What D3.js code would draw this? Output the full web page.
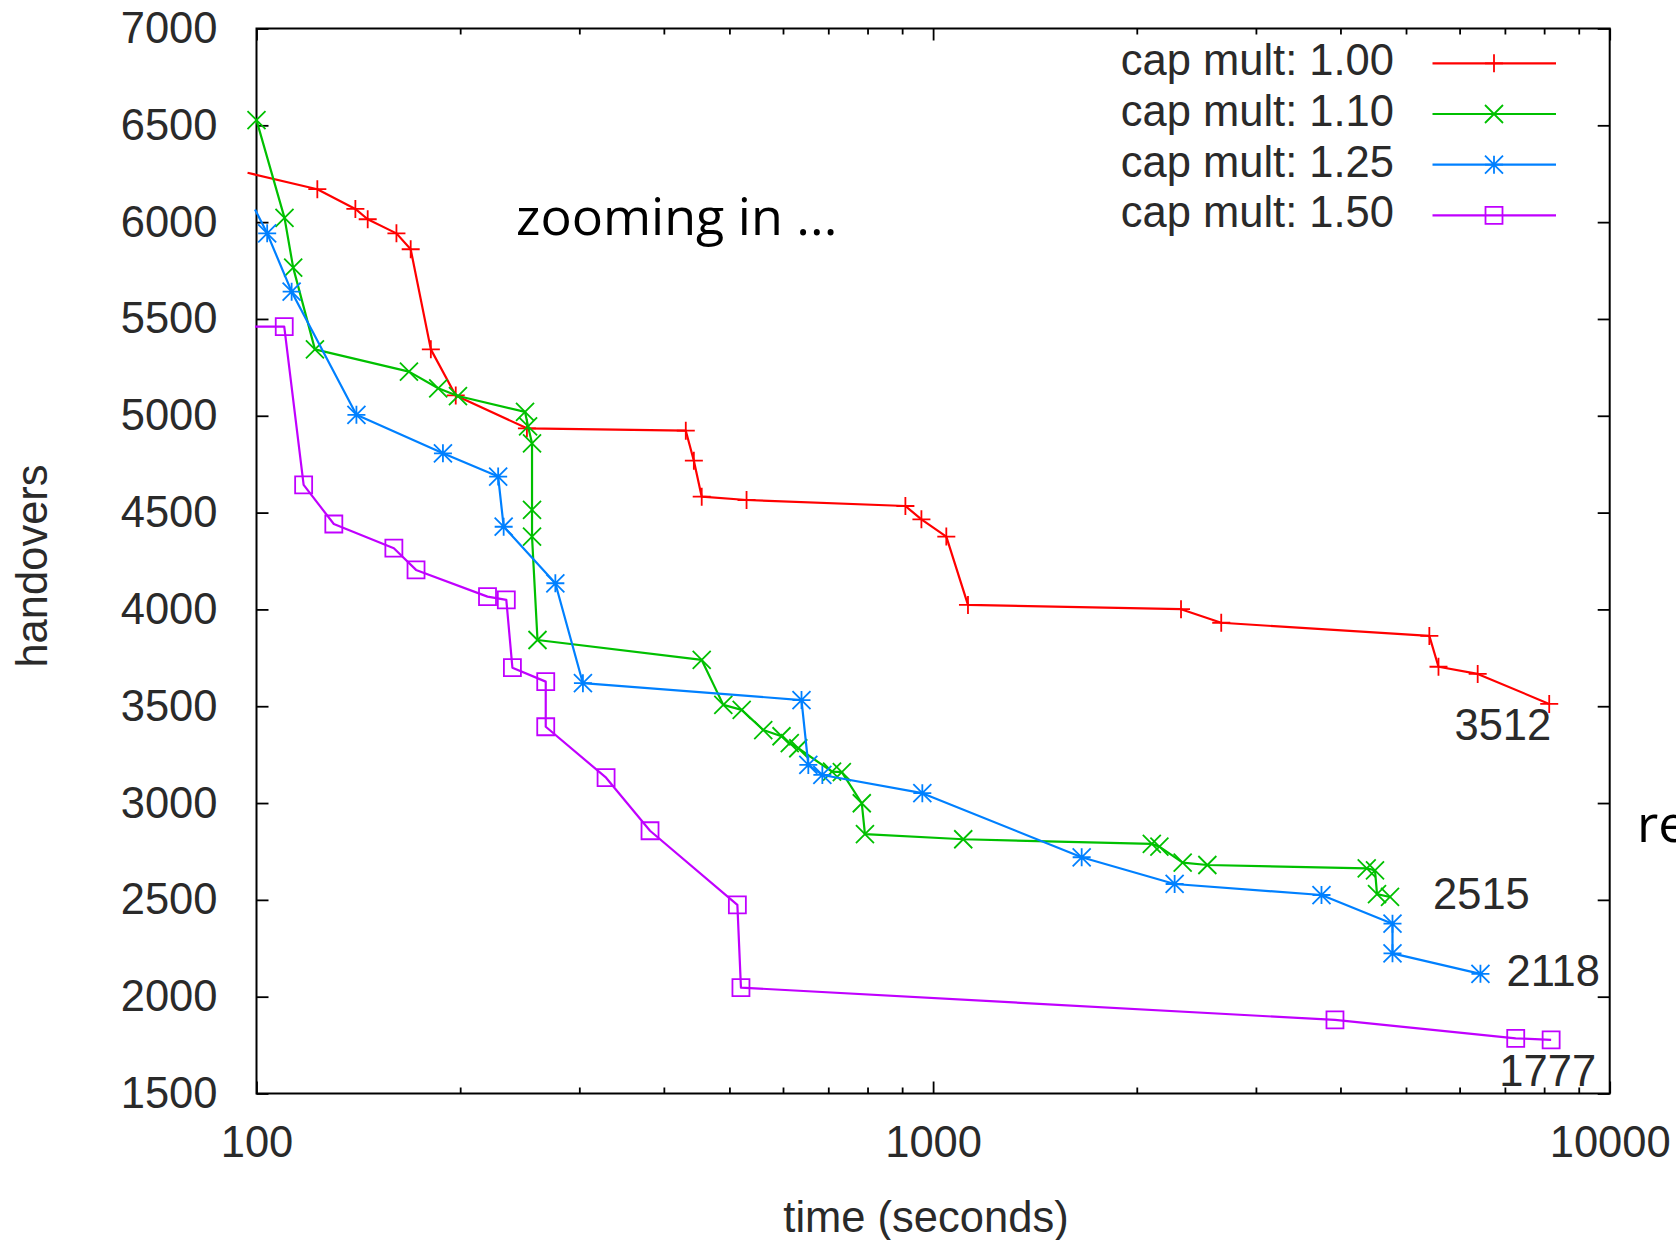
<!DOCTYPE html>
<html>
<head>
<meta charset="utf-8">
<script src="https://cdn.jsdelivr.net/npm/d3@7"></script>
<style>
  html, body { margin: 0; padding: 0; background: #fff; }
  svg { display: block; }
</style>
</head>
<body>
<svg id="chart" width="1676" height="1240"></svg>
<script>
// ---------------- data ----------------
const categories = ["cap mult: 1.00", "cap mult: 1.10", "cap mult: 1.25", "cap mult: 1.50"];

// [time (seconds), handovers]
const capMult100 = [
  [97, 6255], [123, 6170], [140, 6068], [146, 6015], [161, 5942], [169, 5860],
  [181, 5343], [197, 5105], [251, 4935], [431, 4923], [443, 4768], [455, 4582],
  [530, 4565], [910, 4534], [961, 4465], [1046, 4376], [1126, 4023], [2325, 4001],
  [2666, 3931], [5413, 3863], [5584, 3704], [6381, 3667], [8140, 3512]
];
const capMult110 = [
  [100, 6527], [110, 6022], [113.3, 5765], [122, 5343], [168, 5228], [185.6, 5142],
  [198.5, 5102], [249.4, 5020], [252, 4945], [255.4, 4858], [255.4, 4514], [255.4, 4376],
  [260.2, 3842], [455, 3739], [489.7, 3507], [521.3, 3481], [561, 3377], [597, 3345],
  [614, 3309], [632, 3283], [709, 3162], [733, 3160], [784.5, 2999], [793, 2840],
  [1108, 2813], [2105, 2789], [2160, 2775], [2338, 2692], [2543, 2680], [4374, 2663],
  [4499, 2652], [4530, 2530], [4735, 2515]
];
const capMult125 = [
  [99.5, 6065], [103.7, 5942], [112.7, 5641], [140.5, 5005], [188.6, 4806], [227.6, 4686],
  [231.9, 4427], [276.5, 4135], [303.7, 3619], [639, 3532], [654, 3197], [686, 3145],
  [964, 3051], [1658, 2720], [2275, 2582], [3750, 2525], [4775, 2377], [4775, 2224],
  [6441, 2118]
];
const capMult150 = [
  [99.5, 5460], [109.9, 5460], [117.4, 4643], [130.1, 4441], [159.6, 4316], [172.1, 4204],
  [219.5, 4066], [234, 4049], [238.9, 3699], [267.6, 3627], [267.6, 3394], [328.6, 3131],
  [381.6, 2857], [513.7, 2474], [520, 2047], [3926, 1880], [7263, 1785], [8193, 1777]
];

const yTicks = [1500, 2000, 2500, 3000, 3500, 4000, 4500, 5000, 5500, 6000, 6500, 7000];
const xTickLabels = [100, 1000, 10000];
const xDomain = [100, 10000];
const yDomain = [1500, 7000];

const xTitle = "time (seconds)";
const yTitle = "handovers";
const noteText = "zooming in ...";
const edgeText = "re";

// ---------------- styles ----------------
const colors = ["#ff0000", "#00c000", "#0080ff", "#c000ff"];
const markerTypes = ["plus", "cross", "star", "box"];
const allSeries = [capMult100, capMult110, capMult125, capMult150];

const FONT = "'Liberation Sans', Arial, sans-serif";
const FS = 43.5;
const TXT = "#2a2a2a";

const L = 256.5, R = 1609.7, T = 28.5, B = 1093.5;

const svg = d3.select("#chart");
svg.append("rect").attr("width", 1676).attr("height", 1240).attr("fill", "#fff");

const x = d3.scaleLog().domain(xDomain).range([L, R]);
const y = d3.scaleLinear().domain(yDomain).range([B, T]);

const isMajor = v => Math.abs(Math.log10(v) - Math.round(Math.log10(v))) < 1e-9;
const allXTicks = x.ticks();
const minorX = allXTicks.filter(v => !isMajor(v));

// ---------------- axes ----------------
function styleAxis(g) {
  g.select(".domain").remove();
  g.selectAll(".tick line").attr("stroke", "#000").attr("stroke-width", 1.8);
  g.selectAll("text").attr("font-family", FONT).attr("font-size", FS).attr("fill", TXT);
}

// left (with labels)
const gLeft = svg.append("g").attr("transform", `translate(${L},0)`)
  .call(d3.axisLeft(y).tickValues(yTicks).tickSize(-12).tickPadding(39).tickFormat(d3.format("d")));
styleAxis(gLeft);
gLeft.selectAll("text").attr("dy", null).attr("y", 14);

// right (mirror)
const gRight = svg.append("g").attr("transform", `translate(${R},0)`)
  .call(d3.axisRight(y).tickValues(yTicks).tickSize(-12).tickFormat(""));
styleAxis(gRight);

// bottom major (with labels)
const gBottom = svg.append("g").attr("transform", `translate(0,${B})`)
  .call(d3.axisBottom(x).tickValues(xTickLabels).tickSize(-12).tickFormat(d3.format("d")));
styleAxis(gBottom);
gBottom.selectAll("text").attr("dy", null).attr("y", 63.5);

// bottom minor
const gBottomMinor = svg.append("g").attr("transform", `translate(0,${B})`)
  .call(d3.axisBottom(x).tickValues(minorX).tickSize(-6).tickFormat(""));
styleAxis(gBottomMinor);

// top major + minor
const gTop = svg.append("g").attr("transform", `translate(0,${T})`)
  .call(d3.axisTop(x).tickValues(xTickLabels).tickSize(-12).tickFormat(""));
styleAxis(gTop);
const gTopMinor = svg.append("g").attr("transform", `translate(0,${T})`)
  .call(d3.axisTop(x).tickValues(minorX).tickSize(-6).tickFormat(""));
styleAxis(gTopMinor);

// border
svg.append("rect")
  .attr("x", L).attr("y", T).attr("width", R - L).attr("height", B - T)
  .attr("fill", "none").attr("stroke", "#000").attr("stroke-width", 2);

// axis titles
svg.append("text")
  .attr("x", 926).attr("y", 1232)
  .attr("text-anchor", "middle")
  .attr("font-family", FONT).attr("font-size", FS).attr("fill", TXT)
  .text(xTitle);

svg.append("text")
  .attr("transform", "translate(47,566) rotate(-90)")
  .attr("text-anchor", "middle")
  .attr("font-family", FONT).attr("font-size", FS).attr("fill", TXT)
  .text(yTitle);

// ---------------- markers ----------------
const H = 9;
function markerPath(type, h) {
  const plus = `M${-h},0H${h}M0,${-h}V${h}`;
  const cross = `M${-h},${-h}L${h},${h}M${-h},${h}L${h},${-h}`;
  if (type === "plus") return plus;
  if (type === "cross") return cross;
  if (type === "star") return plus + cross;
  const b = h - 0.5;
  return `M${-b},${-b}H${b}V${b}H${-b}Z`;
}

// ---------------- series ----------------
const line = d3.line().x(d => x(d[0])).y(d => y(d[1]));

allSeries.forEach((data, i) => {
  const g = svg.append("g");
  g.append("path")
    .datum(data)
    .attr("d", line)
    .attr("fill", "none")
    .attr("stroke", colors[i])
    .attr("stroke-width", 2.2)
    .attr("stroke-linejoin", "round");
  g.selectAll("path.mk")
    .data(data.filter(d => d[0] >= xDomain[0] && d[0] <= xDomain[1]))
    .join("path")
    .attr("class", "mk")
    .attr("transform", d => `translate(${x(d[0])},${y(d[1])})`)
    .attr("d", markerPath(markerTypes[i], H))
    .attr("fill", "none")
    .attr("stroke", colors[i])
    .attr("stroke-width", 1.8);
});

// ---------------- end labels ----------------
const endLabelOffsets = [
  { dx: 2, dy: 36, anchor: "end" },
  { dx: 43, dy: 12, anchor: "start" },
  { dx: 26, dy: 12, anchor: "start" },
  { dx: 45, dy: 46, anchor: "end" }
];
allSeries.forEach((data, i) => {
  const last = data[data.length - 1];
  const o = endLabelOffsets[i];
  svg.append("text")
    .attr("x", x(last[0]) + o.dx)
    .attr("y", y(last[1]) + o.dy)
    .attr("text-anchor", o.anchor)
    .attr("font-family", FONT).attr("font-size", FS).attr("fill", TXT)
    .text(d3.format("d")(last[1]));
});

// ---------------- legend ----------------
const legendRows = [63.3, 114, 164.7, 215.3];
categories.forEach((name, i) => {
  const ly = legendRows[i];
  svg.append("text")
    .attr("x", 1394).attr("y", ly + 12)
    .attr("text-anchor", "end")
    .attr("font-family", FONT).attr("font-size", FS).attr("fill", TXT)
    .text(name);
  svg.append("line")
    .attr("x1", 1432.5).attr("x2", 1556).attr("y1", ly).attr("y2", ly)
    .attr("stroke", colors[i]).attr("stroke-width", 2.2);
  svg.append("path")
    .attr("transform", `translate(1494,${ly})`)
    .attr("d", markerPath(markerTypes[i], H))
    .attr("fill", "none").attr("stroke", colors[i]).attr("stroke-width", 1.8);
});

// ---------------- slide annotations ----------------
svg.append("text")
  .attr("x", 516).attr("y", 235)
  .attr("font-family", "'Open Sans', 'Noto Sans', sans-serif")
  .attr("font-size", 52).attr("fill", "#000")
  .text(noteText);

// partial word at the right page edge, cut off by the page as in the reference
svg.append("text")
  .attr("x", 1637).attr("y", 842)
  .attr("font-family", "'Open Sans', 'Noto Sans', sans-serif")
  .attr("font-size", 52).attr("fill", "#000")
  .text(edgeText);
</script>
</body>
</html>
